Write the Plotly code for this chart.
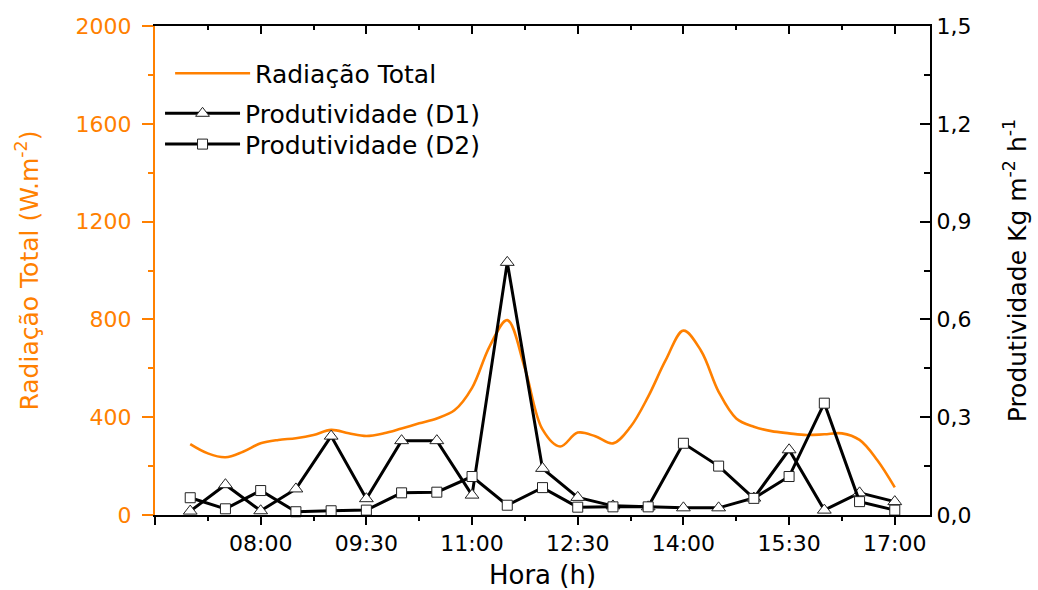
import pandas as pd
import plotly.graph_objects as go

# ---- data -----------------------------------------------------------------
DAY = "2000-01-01 "

# solar radiation, sampled every 15 min (W.m-2)
rad_times = [
    "07:00", "07:15", "07:30", "07:45", "08:00", "08:15", "08:30", "08:45",
    "09:00", "09:15", "09:30", "09:45", "10:00", "10:15", "10:30", "10:45",
    "11:00", "11:15", "11:30", "11:45", "12:00", "12:15", "12:30", "12:45",
    "13:00", "13:15", "13:30", "13:45", "14:00", "14:15", "14:30", "14:45",
    "15:00", "15:15", "15:30", "15:45", "16:00", "16:15", "16:30", "16:45",
    "17:00",
]
radiacao_total = [
    290, 252, 236, 259, 293, 307, 314, 327,
    348, 334, 323, 334, 354, 375, 395, 428,
    520, 690, 797, 600, 350, 280, 337, 322,
    293, 361, 484, 634, 754, 672, 504, 395,
    361, 343, 334, 327, 330, 334, 307, 225,
    113,
]

# still productivity, sampled every 30 min (Kg m-2 h-1)
prod_times = [
    "07:00", "07:30", "08:00", "08:30", "09:00", "09:30", "10:00",
    "10:30", "11:00", "11:30", "12:00", "12:30", "13:00", "13:30",
    "14:00", "14:30", "15:00", "15:30", "16:00", "16:30", "17:00",
]
produtividade_d1 = [
    0.012, 0.093, 0.013, 0.080, 0.242, 0.050, 0.228,
    0.228, 0.061, 0.775, 0.143, 0.054, 0.028, 0.025,
    0.022, 0.022, 0.052, 0.200, 0.015, 0.068, 0.041,
]
produtividade_d2 = [
    0.053, 0.019, 0.075, 0.010, 0.013, 0.015, 0.068,
    0.070, 0.118, 0.030, 0.084, 0.024, 0.025, 0.025,
    0.220, 0.150, 0.051, 0.118, 0.343, 0.041, 0.015,
]

hour_ticks = ["06:30", "08:00", "09:30", "11:00", "12:30", "14:00", "15:30", "17:00"]
hour_labels = ["", "08:00", "09:30", "11:00", "12:30", "14:00", "15:30", "17:00"]
rad_ticks = [0, 400, 800, 1200, 1600, 2000]
prod_ticks = [0.0, 0.3, 0.6, 0.9, 1.2, 1.5]

# ---- styling ----------------------------------------------------------------
ORANGE = "#FF8000"
FONT = "DejaVu Sans"
TICK_SIZE = 22


def to_dt(times):
    return pd.to_datetime([DAY + t for t in times])


x_rad = to_dt(rad_times)
x_prod = to_dt(prod_times)
x_ticks = to_dt(hour_ticks)
x_range = [DAY + "06:30", DAY + "17:30"]

fig = go.Figure()

fig.add_trace(go.Scatter(
    x=x_rad, y=radiacao_total, name="Radiação Total",
    mode="lines", line=dict(color=ORANGE, width=2.6, shape="spline", smoothing=1.0),
    yaxis="y", legend="legend",
))
fig.add_trace(go.Scatter(
    x=x_prod, y=produtividade_d1, name="Produtividade (D1)",
    mode="lines+markers", line=dict(color="black", width=3),
    marker=dict(symbol="triangle-up", size=12, color="white",
                line=dict(color="#222222", width=1)),
    yaxis="y2", legend="legend2", cliponaxis=False,
))
fig.add_trace(go.Scatter(
    x=x_prod, y=produtividade_d2, name="Produtividade (D2)",
    mode="lines+markers", line=dict(color="black", width=3),
    marker=dict(symbol="square", size=10, color="white",
                line=dict(color="#222222", width=1)),
    yaxis="y2", legend="legend3", cliponaxis=False,
))
# carrier for the top frame axis
fig.add_trace(go.Scatter(
    x=x_prod, y=produtividade_d1, xaxis="x2", yaxis="y2",
    mode="none", showlegend=False, hoverinfo="skip",
))

minor_x = dict(dtick=45 * 60 * 1000, tick0=DAY + "06:30", ticklen=4, tickwidth=2)
legend_style = dict(
    xanchor="left", yanchor="top", bgcolor="rgba(0,0,0,0)", itemwidth=75,
    font=dict(family=FONT, size=25, color="black"),
)

fig.update_layout(
    width=1038, height=590,
    margin=dict(l=155, r=108, t=26, b=75, autoexpand=False),
    paper_bgcolor="white", plot_bgcolor="white",
    separators=",.",
    font=dict(family=FONT, size=TICK_SIZE, color="black"),
    xaxis=dict(
        type="date", range=x_range, automargin=False,
        tickmode="array", tickvals=x_ticks, ticktext=hour_labels,
        ticks="outside", ticklen=8, tickwidth=2, tickcolor="black",
        minor=dict(ticks="outside", tickcolor="black", **minor_x),
        showline=True, linecolor="black", linewidth=2,
        showgrid=False, zeroline=False,
        tickfont=dict(family=FONT, size=TICK_SIZE, color="black"),
        title=dict(text="Hora (h)", font=dict(family=FONT, size=26, color="black"),
                   standoff=14),
    ),
    xaxis2=dict(
        type="date", range=x_range, overlaying="x", side="top", anchor="y",
        automargin=False,
        tickmode="array", tickvals=x_ticks, showticklabels=False,
        ticks="inside", ticklen=8, tickwidth=2, tickcolor="black",
        minor=dict(ticks="inside", tickcolor="black", **minor_x),
        showline=True, linecolor="black", linewidth=2,
        showgrid=False, zeroline=False,
    ),
    yaxis=dict(
        range=[0, 2000], tickmode="array", tickvals=rad_ticks, automargin=False,
        ticks="outside", ticklen=11, tickwidth=2, tickcolor=ORANGE,
        minor=dict(dtick=200, ticks="outside", ticklen=5, tickwidth=2, tickcolor=ORANGE),
        showline=True, linecolor=ORANGE, linewidth=2,
        showgrid=False, zeroline=False, ticklabelstandoff=6,
        tickfont=dict(family=FONT, size=TICK_SIZE, color=ORANGE),
        title=dict(text="Radiação Total (W.m<sup>-2</sup>)",
                   font=dict(family=FONT, size=25, color=ORANGE), standoff=30),
    ),
    yaxis2=dict(
        range=[0, 1.5], overlaying="y", side="right", anchor="x", automargin=False,
        tickmode="array", tickvals=prod_ticks, tickformat=".1f",
        ticks="inside", ticklen=10, tickwidth=2, tickcolor="black",
        minor=dict(dtick=0.15, ticks="inside", ticklen=6, tickwidth=2, tickcolor="black"),
        showline=True, linecolor="black", linewidth=2,
        showgrid=False, zeroline=False,
        tickfont=dict(family=FONT, size=TICK_SIZE, color="black"),
        title=dict(text="Produtividade Kg m<sup>-2</sup> h<sup>-1</sup>",
                   font=dict(family=FONT, size=25, color="black"), standoff=38),
    ),
    legend=dict(x=0.0195, y=0.950, **legend_style),
    legend2=dict(x=0.0065, y=0.868, **legend_style),
    legend3=dict(x=0.0065, y=0.805, **legend_style),
)

fig.write_html("out.html")
